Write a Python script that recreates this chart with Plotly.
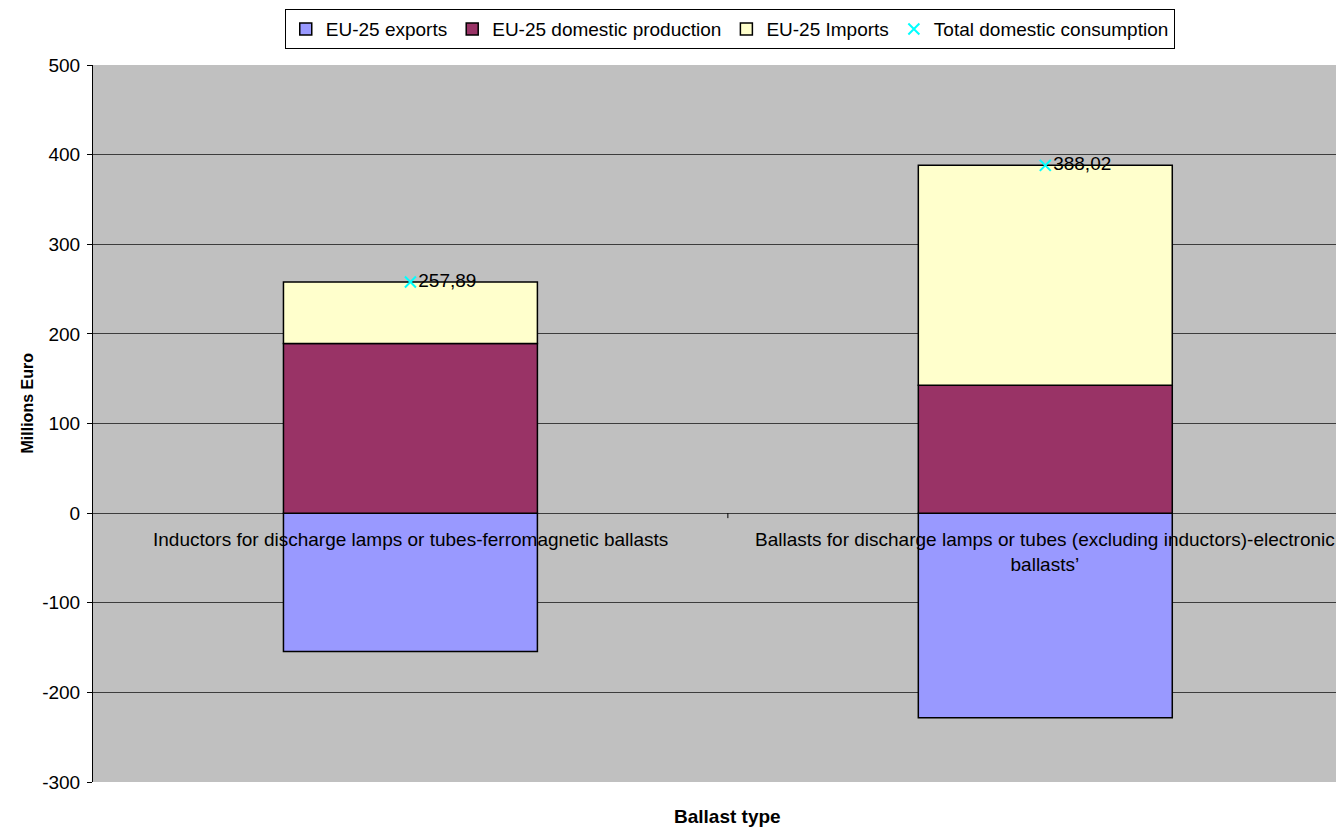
import plotly.graph_objects as go

categories = ["Inductors for discharge lamps or tubes-ferromagnetic ballasts",
              "Ballasts for discharge lamps or tubes (excluding inductors)-electronic ballasts’"]
category_labels = ["Inductors for discharge lamps or tubes-ferromagnetic ballasts",
                   "Ballasts for discharge lamps or tubes (excluding inductors)-electronic<br>ballasts’"]
exports = [-154.3, -228.3]
domestic_production = [189.3, 142.8]
imports = [68.59, 245.22]
total_consumption = [257.89, 388.02]
consumption_labels = ["257,89", "388,02"]
y_ticks = [-300, -200, -100, 0, 100, 200, 300, 400, 500]
y_tick_labels = ["-300", "-200", "-100", "0", "100", "200", "300", "400", "500"]

FONT = "Liberation Sans, Arial, sans-serif"
xpos = [0, 1]

fig = go.Figure()
bar_line = dict(color="black", width=1.5)
fig.add_trace(go.Bar(x=xpos, y=exports, name="EU-25 exports",
                     marker=dict(color="#9999FF", line=bar_line), width=0.4))
fig.add_trace(go.Bar(x=xpos, y=domestic_production, name="EU-25 domestic production",
                     marker=dict(color="#993366", line=bar_line), width=0.4))
fig.add_trace(go.Bar(x=xpos, y=imports, name="EU-25 Imports",
                     marker=dict(color="#FFFFCC", line=bar_line), width=0.4))
fig.add_trace(go.Scatter(x=xpos, y=total_consumption, name="Total domestic consumption",
                         mode="markers+text", text=consumption_labels,
                         textposition="middle right",
                         textfont=dict(family=FONT, size=19, color="black"),
                         marker=dict(symbol="x-thin", size=11,
                                     line=dict(color="#00FFFF", width=2), color="#00FFFF")))

for xi, lab in zip(xpos, category_labels):
    fig.add_annotation(x=xi, y=0, xref="x", yref="y", text=lab, showarrow=False,
                       yanchor="top", xanchor="center", yshift=-14,
                       font=dict(family=FONT, size=19, color="black"))

fig.add_annotation(x=0.5, xref="x", y=0, yref="paper", text="<b>Ballast type</b>",
                   showarrow=False, yanchor="top", yshift=-22,
                   font=dict(family=FONT, size=19, color="black"))

fig.add_annotation(x=0, xref="paper", xshift=-66, y=0.5, yref="paper", yshift=20,
                   text="<b>Millions Euro</b>", textangle=-90, showarrow=False,
                   xanchor="center", yanchor="middle",
                   font=dict(family=FONT, size=16, color="black"))

# category boundary tick on the zero line
fig.add_shape(type="line", xref="x", yref="y", x0=0.5, x1=0.5,
              ysizemode="pixel", yanchor=0, y0=0, y1=-5,
              line=dict(color="black", width=1))

fig.update_layout(
    width=1336, height=822,
    margin=dict(l=85, r=0, t=57, b=48),
    paper_bgcolor="white", plot_bgcolor="#C0C0C0",
    barmode="relative",
    font=dict(family=FONT, size=19, color="black"),
    showlegend=True,
    legend=dict(orientation="h", x=0.509, xanchor="center", y=1.078, yanchor="top",
                bgcolor="white", bordercolor="black", borderwidth=1,
                font=dict(family=FONT, size=19), traceorder="normal",
                itemwidth=30, tracegroupgap=0),
    xaxis=dict(range=[-0.5, 1.4705], showticklabels=False, showgrid=False,
               zeroline=False, showline=False, ticks=""),
    yaxis=dict(range=[-300, 500], tickvals=y_ticks, ticktext=y_tick_labels,
               showgrid=True,
               gridcolor="#3c3c3c", gridwidth=1, zeroline=True, zerolinecolor="#3c3c3c",
               zerolinewidth=1, showline=True, linecolor="black", linewidth=1,
               ticks="outside", ticklen=5, tickcolor="black",
               ticklabelstandoff=3,
               tickfont=dict(family=FONT, size=19)),
)

fig.write_html("out.html")
